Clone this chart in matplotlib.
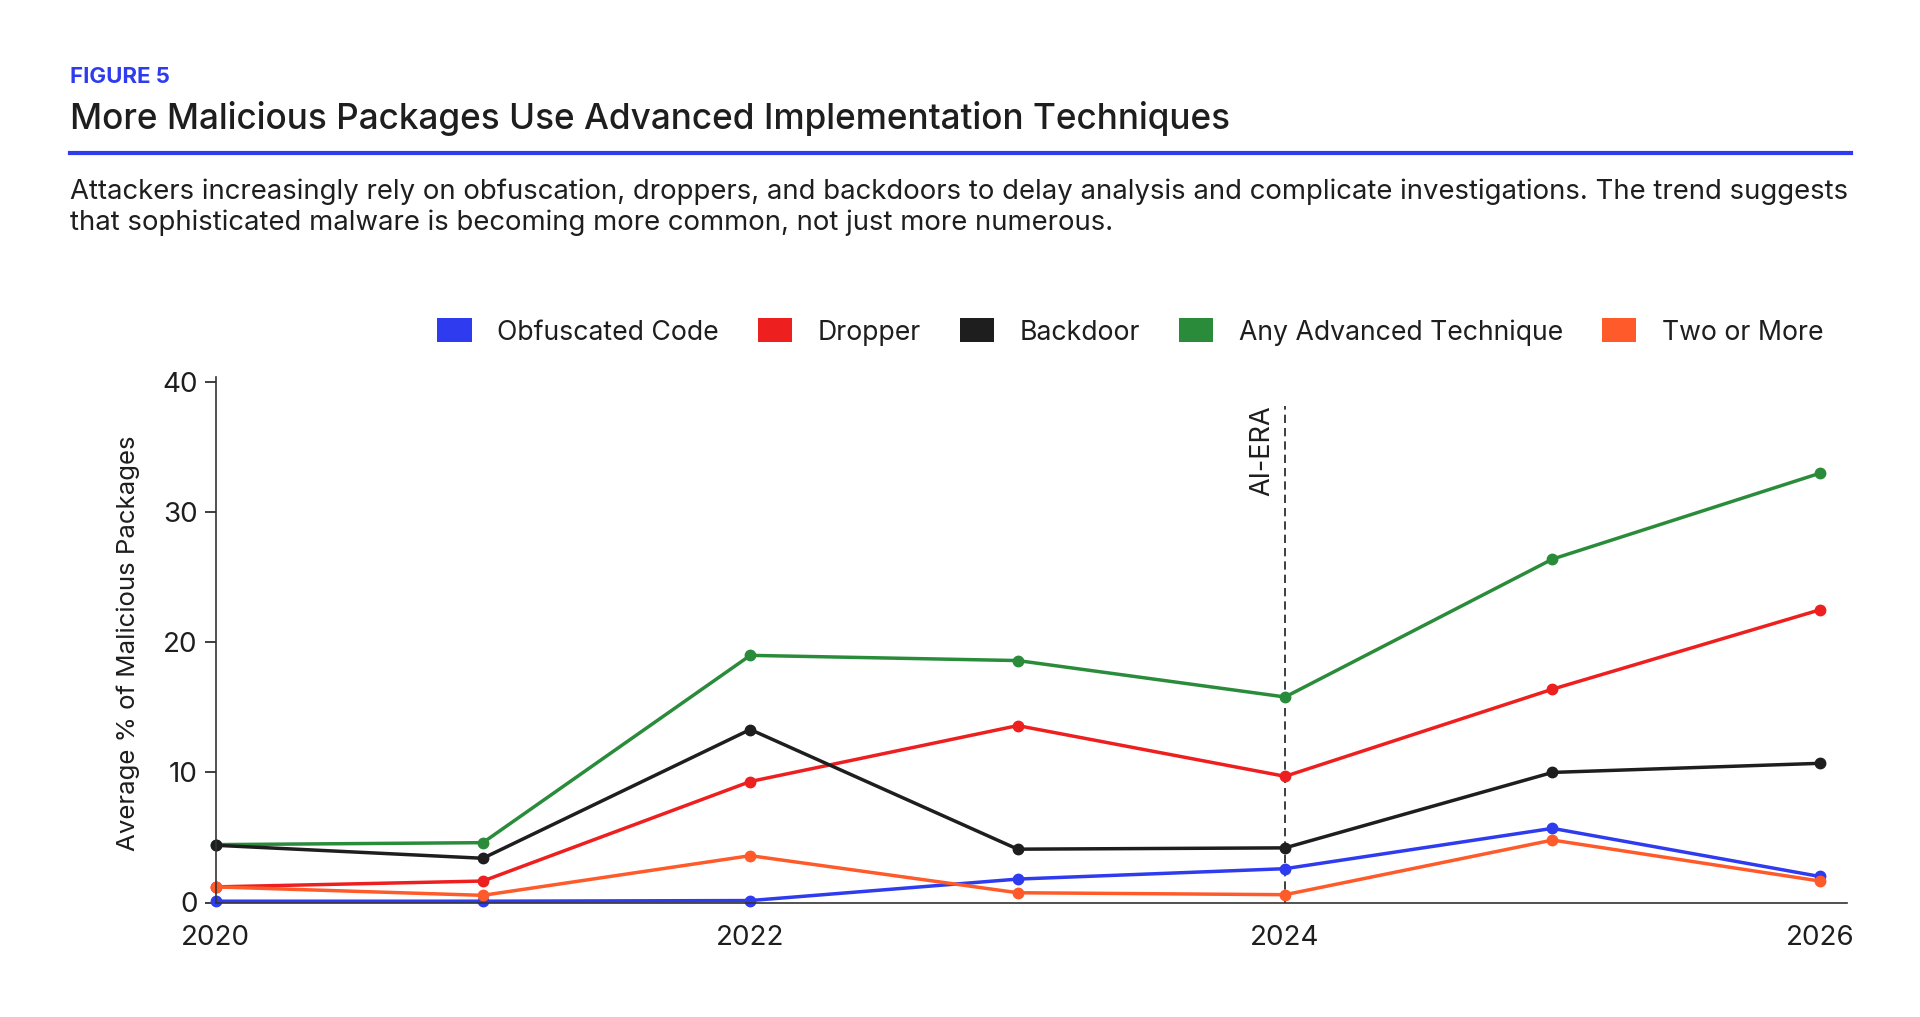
import matplotlib
matplotlib.use("Agg")
import matplotlib.pyplot as plt
from matplotlib.patches import Patch

plt.rcParams['font.family'] = ['Inter', 'DejaVu Sans']

years = [2020, 2021, 2022, 2023, 2024, 2025, 2026]
series_names = ["Obfuscated Code", "Dropper", "Backdoor", "Any Advanced Technique", "Two or More"]
obfuscated = [0.1, 0.1, 0.15, 1.8, 2.6, 5.7, 2.0]
dropper = [1.2, 1.65, 9.3, 13.6, 9.7, 16.4, 22.5]
backdoor = [4.4, 3.4, 13.3, 4.1, 4.2, 10.0, 10.7]
any_advanced = [4.45, 4.6, 19.0, 18.6, 15.8, 26.4, 33.0]
two_or_more = [1.2, 0.55, 3.6, 0.75, 0.6, 4.8, 1.65]
colors = ["#2E3BEF", "#EE1F1F", "#1E1E1E", "#2A8C3A", "#FF5A2A"]
xticks = [2020, 2022, 2024, 2026]
yticks = [0, 10, 20, 30, 40]
ai_era_year = 2024

W, H = 1920, 1017
fig = plt.figure(figsize=(W / 100, H / 100), dpi=100)
fig.patch.set_facecolor("white")

def fy(y):
    return 1 - y / H

TXT = "#1E1E1E"

# Header
fig.text(70 / W, fy(77), "FIGURE 5", color="#2E3BEF", fontsize=16, fontweight="bold", va="center", ha="left")
fig.text(70 / W, fy(119), "More Malicious Packages Use Advanced Implementation Techniques",
         color=TXT, fontsize=25.3, fontweight="medium", va="center", ha="left")
fig.add_artist(plt.Line2D([70 / W, 1851 / W], [fy(153), fy(153)], color="#2E3BEF", lw=3, transform=fig.transFigure))
fig.text(70 / W, fy(192), "Attackers increasingly rely on obfuscation, droppers, and backdoors to delay analysis and complicate investigations. The trend suggests",
         color=TXT, fontsize=19.8, va="center", ha="left")
fig.text(70 / W, fy(223), "that sophisticated malware is becoming more common, not just more numerous.",
         color=TXT, fontsize=19.8, va="center", ha="left")

ax = fig.add_axes([215.5 / W, 1 - 902.5 / H, (1846.6 - 215.5) / W, (902.5 - 377) / H])

data = {
    "Obfuscated Code": obfuscated,
    "Dropper": dropper,
    "Backdoor": backdoor,
    "Any Advanced Technique": any_advanced,
    "Two or More": two_or_more,
}
cmap = dict(zip(series_names, colors))
plot_order = ["Obfuscated Code", "Dropper", "Any Advanced Technique", "Backdoor", "Two or More"]
for name in plot_order:
    ax.plot(years, data[name], color=cmap[name], lw=2.5, marker="o", markersize=7.5, clip_on=False)

ax.set_xlim(2020, 2026.1)
ax.set_ylim(0, 40.4)
ax.set_xticks(xticks)
ax.set_xticklabels([str(t) for t in xticks])
ax.set_yticks(yticks)
ax.tick_params(axis="x", length=0, pad=16, labelsize=20, colors=TXT)
ax.tick_params(axis="y", length=8, width=1.2, pad=5, labelsize=20, colors=TXT)
for s in ["top", "right"]:
    ax.spines[s].set_visible(False)
for s in ["left", "bottom"]:
    ax.spines[s].set_color("#333333")
    ax.spines[s].set_linewidth(1.2)

# AI-ERA marker
ax.plot([ai_era_year, ai_era_year], [0, 38.2], color=TXT, lw=1.2, dashes=(5, 3), zorder=1)
ax.annotate("AI-ERA", xy=(ai_era_year, 38.2), xytext=(-7, 0), textcoords="offset points",
            rotation=90, ha="right", va="top", fontsize=19.5, color=TXT)

fig.text(128 / W, fy(643), "Average % of Malicious Packages", rotation=90, ha="center", va="center",
         fontsize=18.6, color=TXT)

handles = [Patch(facecolor=cmap[n], edgecolor="none", label=n) for n in series_names]
leg = fig.legend(handles=handles, loc="center right", bbox_to_anchor=(1823 / W, fy(332)), ncol=5,
                 frameon=False, fontsize=19.2, handlelength=1.3, handleheight=1.0, handletextpad=0.95,
                 columnspacing=1.45, borderpad=0, borderaxespad=0)
for t in leg.get_texts():
    t.set_color(TXT)

fig.savefig("out.png", dpi=100, facecolor="white")
